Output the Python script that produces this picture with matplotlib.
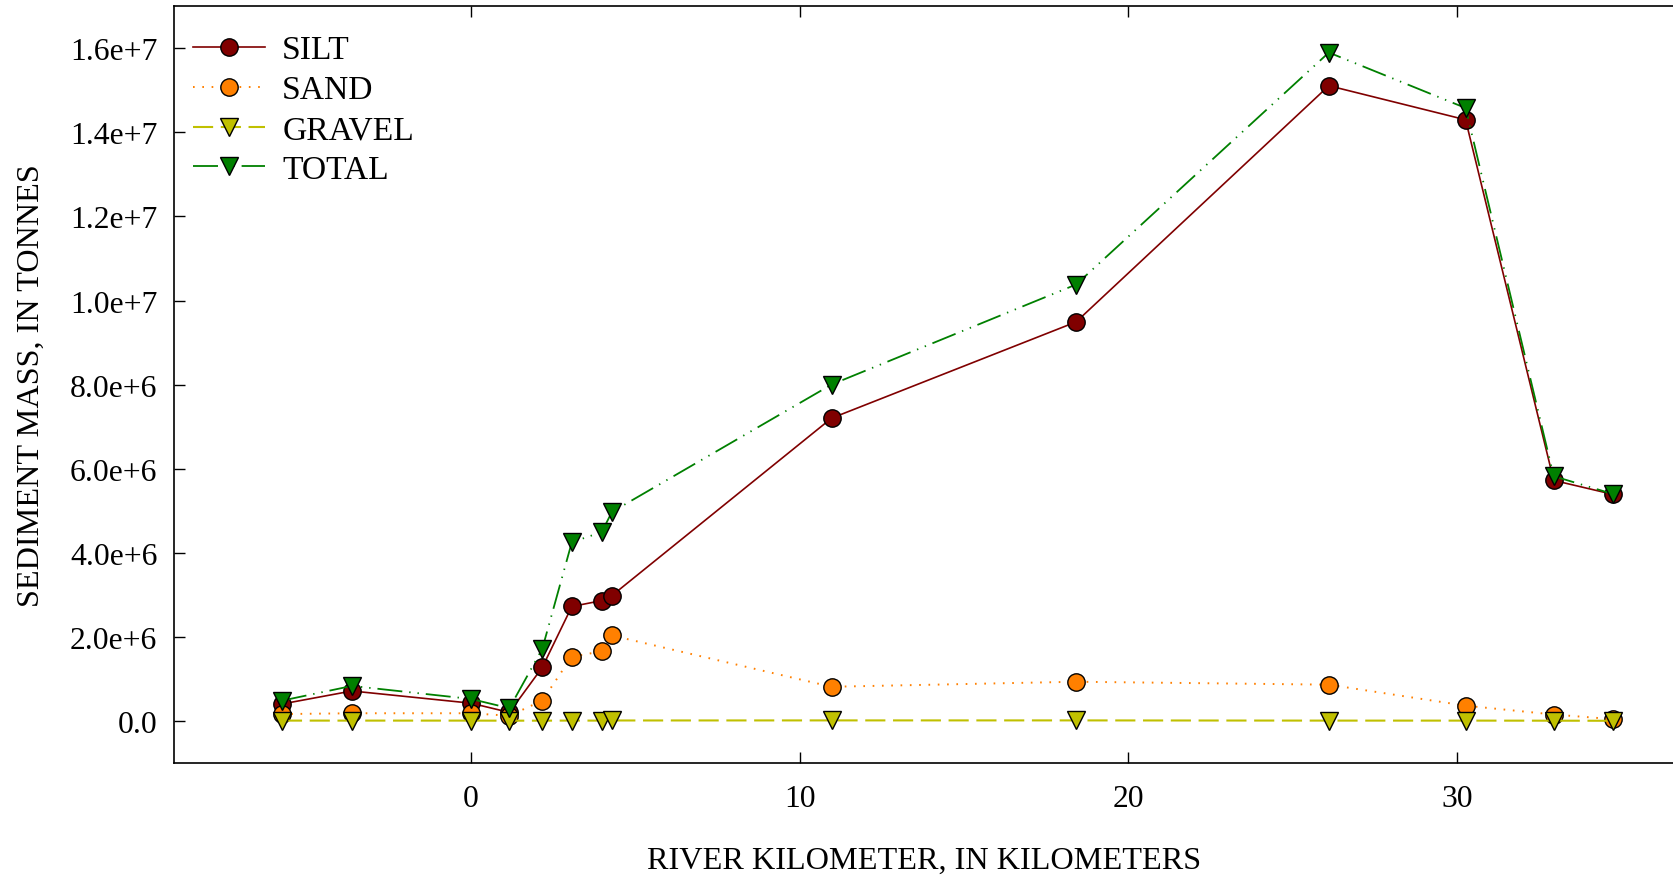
import matplotlib
matplotlib.use('Agg')
import matplotlib.pyplot as plt

plt.rcParams['font.family'] = ['Liberation Serif', 'DejaVu Serif']
plt.rcParams['lines.scale_dashes'] = False

# river kilometer of each sample site
km = [-5.75, -3.62, 0.0, 1.17, 2.17, 3.07, 3.98, 4.29, 10.97, 18.41, 26.10, 30.26, 32.94, 34.73]

# sediment mass, tonnes
silt = [0.40e6, 0.71e6, 0.42e6, 0.20e6, 1.27e6, 2.72e6, 2.86e6, 2.98e6, 7.20e6, 9.49e6, 15.11e6, 14.30e6, 5.72e6, 5.39e6]
sand = [0.16e6, 0.18e6, 0.18e6, 0.12e6, 0.48e6, 1.53e6, 1.65e6, 2.03e6, 0.81e6, 0.93e6, 0.86e6, 0.36e6, 0.15e6, 0.04e6]
gravel = [0.005e6, 0.005e6, 0.005e6, 0.003e6, 0.004e6, 0.006e6, 0.005e6, 0.008e6, 0.01e6, 0.01e6, 0.005e6, 0.005e6, 0.003e6, 0.001e6]
total = [0.48e6, 0.83e6, 0.52e6, 0.30e6, 1.71e6, 4.25e6, 4.49e6, 4.97e6, 8.00e6, 10.38e6, 15.90e6, 14.58e6, 5.82e6, 5.40e6]

yticks = [0, 2e6, 4e6, 6e6, 8e6, 1e7, 1.2e7, 1.4e7, 1.6e7]
ylabels = ['0.0', '2.0e+6', '4.0e+6', '6.0e+6', '8.0e+6', '1.0e+7', '1.2e+7', '1.4e+7', '1.6e+7']
xticks = [0, 10, 20, 30]

fs = 22.8
fig = plt.figure(figsize=(16.74, 8.79), dpi=100)
ax = fig.add_axes([0.104, 0.131, 0.896, 0.8607])

ax.plot(km, silt, color='#800000', lw=1.2, marker='o', ms=12.5,
        mfc='#800000', mec='black', mew=1.0, label='SILT')
ax.plot(km, sand, color='#FF8000', lw=1.4, ls=(0, (1.2, 5.5)), marker='o', ms=12.5,
        mfc='#FF8000', mec='black', mew=1.0, label='SAND')
ax.plot(km, gravel, color='#C0C000', lw=1.5, ls=(0, (14.5, 5.5)), marker='v', ms=13,
        mfc='#C0C000', mec='black', mew=1.0, label='GRAVEL')
ax.plot(km, total, color='#008000', lw=1.3, ls=(0, (18, 5, 1, 5, 1, 5)), marker='v', ms=13,
        mfc='#008000', mec='black', mew=1.0, label='TOTAL')

ax.set_xlim(-9.03, 36.6)
ax.set_ylim(-1e6, 1.7e7)
ax.set_xticks(xticks)
ax.set_xticklabels([str(t) for t in xticks])
ax.set_yticks(yticks)
ax.set_yticklabels(ylabels)
ax.tick_params(axis='both', direction='in', length=8, width=1.0, labelsize=fs)
ax.tick_params(axis='x', top=True, pad=15)
ax.tick_params(axis='y', right=False, pad=12)
ax.spines['right'].set_visible(False)
for s in ['left', 'bottom', 'top']:
    ax.spines[s].set_linewidth(1.2)

ax.set_xlabel('RIVER KILOMETER, IN KILOMETERS', fontsize=23.2, labelpad=24)
ax.set_ylabel('SEDIMENT MASS, IN TONNES', fontsize=23.2, labelpad=17)

ax.legend(loc='upper left', bbox_to_anchor=(0.0037, 0.98), frameon=False, fontsize=24.2,
          handlelength=2.15, handletextpad=0.5, labelspacing=0.28,
          borderaxespad=0, borderpad=0.4)

fig.savefig('out.png', dpi=100)
